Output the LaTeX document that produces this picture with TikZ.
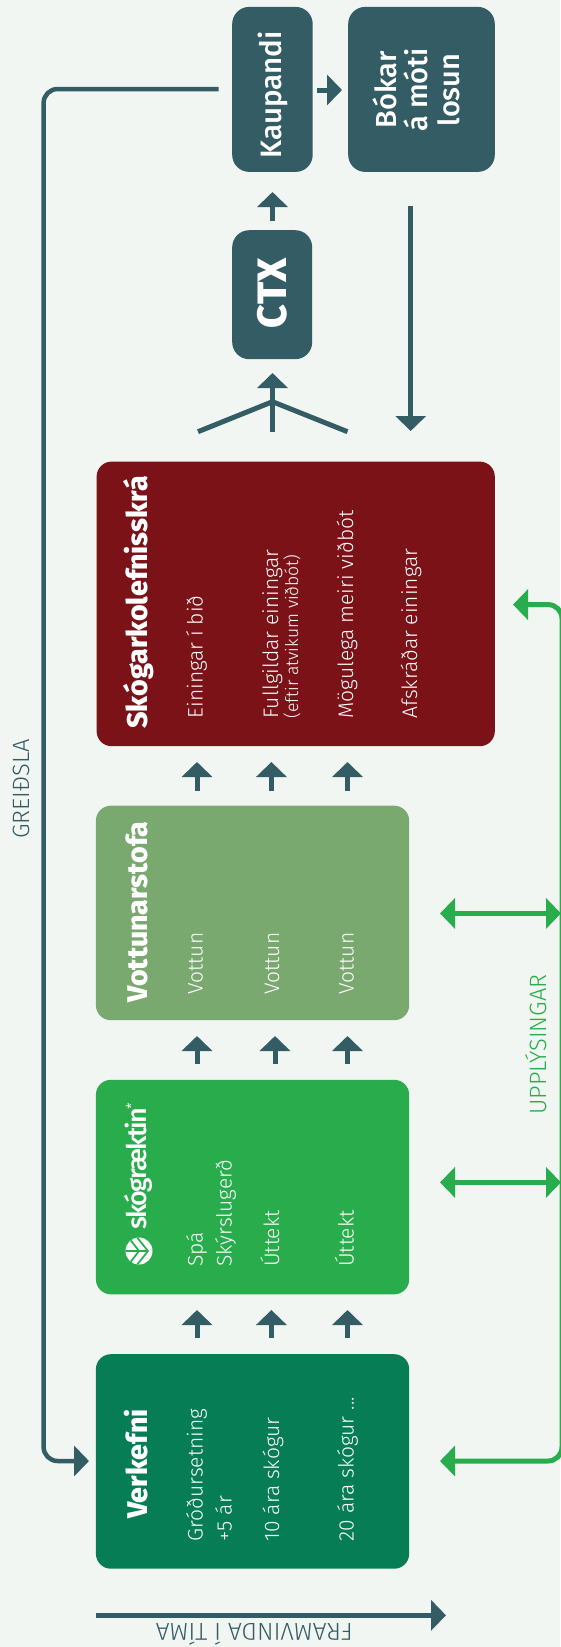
\documentclass[tikz,border=0pt]{standalone}
\usepackage{fontspec}
\setmainfont{Open Sans}
\newfontfamily\lightf{Fira Sans Light}
\newfontfamily\heavyf{Fira Sans ExtraBold}
\newfontfamily\semif{Fira Sans Medium}
\newfontfamily\logof[LetterSpace=-6.5]{Fira Sans Medium}
\usetikzlibrary{arrows.meta}
\definecolor{bgc}{HTML}{F2F6F2}
\definecolor{slatec}{HTML}{335C65}
\definecolor{verkc}{HTML}{067D55}
\definecolor{skogc}{HTML}{29AD4C}
\definecolor{vottc}{HTML}{79A96F}
\definecolor{redc}{HTML}{7B1218}
\tikzset{
 x=1pt,y=-1pt,
 panel/.style={rounded corners=15pt,inner sep=0pt,anchor=north west,draw=none},
 flow/.style={draw=slatec,line width=5pt,-{Triangle[length=15pt,width=30pt]}},
 plain/.style={draw=slatec,line width=4.5pt},
 info/.style={draw=skogc,line width=5pt,{Triangle[length=15pt,width=30pt]}-{Triangle[length=15pt,width=30pt]}},
 ttl/.style={rotate=90,anchor=base west,inner sep=0pt,text=white,font=\heavyf\fontsize{28.5}{28.5}\selectfont},
 body/.style={rotate=90,anchor=base west,inner sep=0pt,text=white,font=\lightf\fontsize{21}{21}\selectfont},
 small/.style={rotate=90,anchor=base west,inner sep=0pt,text=white,font=\lightf\fontsize{17.5}{17.5}\selectfont},
 side/.style={rotate=90,anchor=base west,inner sep=0pt,font=\lightf\fontsize{23.6}{23.6}\selectfont},
}
\begin{document}
\begin{tikzpicture}
\fill[bgc] (0,0) rectangle (560,1647);
\useasboundingbox (0,0) rectangle (560,1647);
% panels
\node[panel,fill=slatec,rounded corners=17pt,minimum width=80.5pt,minimum height=165pt] (kaup) at (232,6.7) {};
\node[panel,fill=slatec,rounded corners=17pt,minimum width=146.6pt,minimum height=165pt] (bok) at (348,6.7) {};
\node[panel,fill=slatec,rounded corners=17pt,minimum width=80pt,minimum height=129pt] (ctx) at (232,230) {};
\node[panel,fill=redc,minimum width=398.2pt,minimum height=284.6pt] (reg) at (96.4,461.4) {};
\node[panel,fill=vottc,minimum width=313.3pt,minimum height=214.5pt] (vott) at (95.7,805.5) {};
\node[panel,fill=skogc,minimum width=313.3pt,minimum height=214.5pt] (skog) at (95.7,1079.6) {};
\node[panel,fill=verkc,minimum width=313.3pt,minimum height=214.5pt] (verk) at (95.7,1354) {};
% top texts
\node[rotate=90,inner sep=0pt,text=white,anchor=base,font=\semif\fontsize{29.5}{29.5}\selectfont] (kauptxt) at (281,95) {Kaupandi};
\node[rotate=90,inner sep=0pt,text=white,anchor=base,font=\heavyf\fontsize{41}{41}\selectfont] (ctxtxt) at (286,293) {CTX};
\node[rotate=90,inner sep=0pt,text=white,align=center,font=\semif\fontsize{29}{31.5}\selectfont] (boktxt) at (416,90) {Bókar\\á móti\\losun};
% titles
\node[ttl] (t1) at (147.5,1519) {Verkefni};
\node[ttl] (t3) at (147.5,1002.6) {Vottunarstofa};
\node[ttl] (t4) at (147.5,729) {Skógarkolefnisskrá};
% Verkefni body
\node[body] (v1) at (202.5,1541.5) {Gróðursetning};
\node[body] (v2) at (231.5,1541.5) {+5 ár};
\node[body] (v3) at (279,1541.5) {10 ára skógur};
\node[body] (v4) at (353.5,1541.5) {20 ára skógur ...};
% Skog body
\node[body] (s1) at (202.5,1267) {Spá};
\node[body] (s2) at (231.5,1267) {Skýrslugerð};
\node[body] (s3) at (279,1267) {Úttekt};
\node[body] (s4) at (353.5,1267) {Úttekt};
% Vottun body
\node[body] (o1) at (202.5,994.5) {Vottun};
\node[body] (o2) at (279,994.5) {Vottun};
\node[body] (o3) at (353.5,994.5) {Vottun};
% Registry body
\node[body] (r1) at (202.5,718.5) {Einingar í bið};
\node[body] (r2) at (278,718.5) {Fullgildar einingar};
\node[small] (r2b) at (298,718.5) {(eftir atvikum viðbót)};
\node[body] (r3) at (353,718.5) {Mögulega meiri viðbót};
\node[body] (r4) at (417,718.5) {Afskráðar einingar};
% logo
\begin{scope}[shift={(139,1251)}]
\fill[white] (0,0) circle (13.5);
\clip (0,0) circle (13.5);
\draw[skogc,line width=1.7pt] (-14,0) -- (8,0);
\draw[skogc,line width=1.7pt] (-3,-15) -- (9,0) -- (-3,15);
\draw[skogc,line width=1.7pt] (-10,-13) -- (0,0) -- (-10,13);
\end{scope}
\node[rotate=90,anchor=base west,inner sep=0pt,text=white,font=\logof\fontsize{27}{27}\selectfont] (logotxt) at (146.7,1230) {skógræktin};
\node[rotate=90,anchor=center,inner sep=0pt,text=white,font=\fontsize{12}{12}\selectfont] (logoast) at (130.5,1106) {*};
% side labels
\node[side,text=slatec] (greid) at (29.5,839) {GREIÐSLA};
\node[side,text=skogc] (uppl) at (546,1115) {UPPLÝSINGAR};
\node[rotate=180,anchor=base west,inner sep=0pt,text=slatec,font=\lightf\fontsize{24.5}{24.5}\selectfont] (fram) at (353,1623) {FRAMVINDA Í TÍMA};
% connector ends
\coordinate (p0) at (218.6,89);
\coordinate (pc1) at (43.6,89);
\coordinate (pc2) at (43.6,1461);
\coordinate (p1) at (89,1461);
\coordinate (ka) at (317,90);
\coordinate (kb) at (342,90);
\coordinate (ca) at (272.5,220.7);
\coordinate (cb) at (272.5,192);
\coordinate (ta) at (272.5,431.7);
\coordinate (tb) at (272.5,373);
\coordinate (tl) at (198,431.7);
\coordinate (tm) at (272.5,401.7);
\coordinate (tr) at (347.5,431.7);
\coordinate (da) at (410.7,206);
\coordinate (db) at (410.7,431);
\coordinate (ga) at (95.7,1615.3);
\coordinate (gb) at (446,1615.3);
\foreach \n/\x in {a/197,b/271.4,c/347.5}{
 \coordinate (r\n s) at (\x,790.5); \coordinate (r\n e) at (\x,762);
 \coordinate (q\n s) at (\x,1338); \coordinate (q\n e) at (\x,1310);
}
\coordinate (mas) at (197,1064); \coordinate (mae) at (197,1036);
\coordinate (mbs) at (275,1064); \coordinate (mbe) at (275,1036);
\coordinate (mcs) at (347.5,1064); \coordinate (mce) at (347.5,1036);
\coordinate (ia) at (513,604.6);
\coordinate (ic1) at (562,604.6);
\coordinate (ic2) at (562,1461);
\coordinate (ib) at (440,1461);
\coordinate (ja) at (440,913.4); \coordinate (jb) at (561,913.4);
\coordinate (la) at (440,1182.4); \coordinate (lb) at (561,1182.4);
% connectors
\draw[plain,-{Triangle[length=15pt,width=30pt]},rounded corners=14pt] (p0) -- (pc1) -- (pc2) -- (p1);
\draw[flow] (ka) -- (kb);
\draw[flow] (ca) -- (cb);
\draw[flow] (ta) -- (tb);
\draw[plain,line width=5pt] (tl) -- (tm) -- (tr);
\draw[flow] (da) -- (db);
\draw[flow] (ga) -- (gb);
\foreach \n in {a,b,c}{
 \draw[flow] (r\n s) -- (r\n e);
 \draw[flow] (m\n s) -- (m\n e);
 \draw[flow] (q\n s) -- (q\n e);
}
\draw[info,rounded corners=14pt] (ia) -- (ic1) -- (ic2) -- (ib);
\draw[info] (ja) -- (jb);
\draw[info] (la) -- (lb);
\end{tikzpicture}
\end{document}
